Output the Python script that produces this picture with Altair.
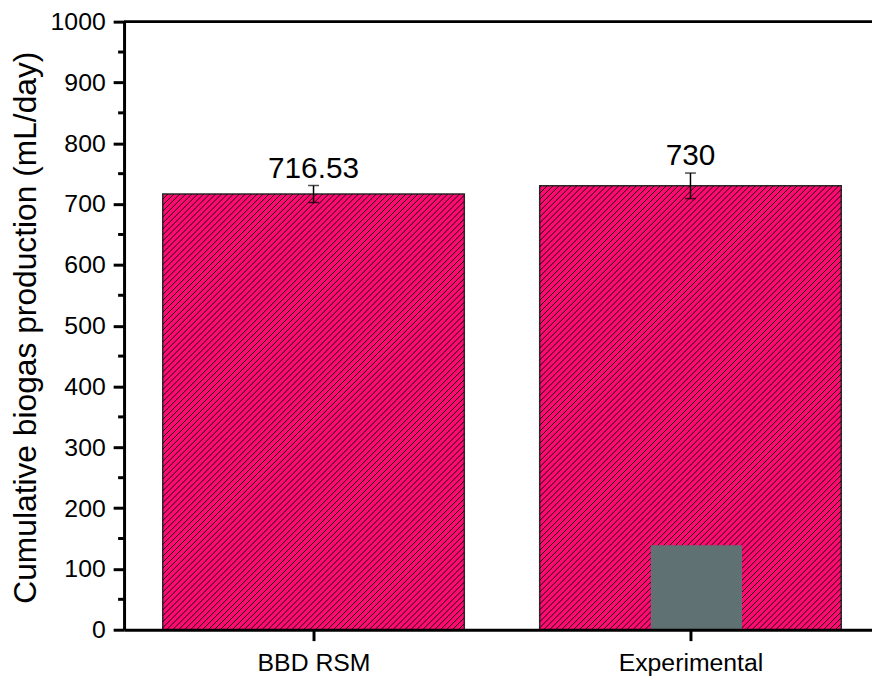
import altair as alt
import pandas as pd

# ---- data ----
categories = ["BBD RSM", "Experimental"]
values = [716.53, 730]
errors = [14, 21]
value_labels = ["716.53", "730"]
y_major = [0, 100, 200, 300, 400, 500, 600, 700, 800, 900, 1000]
y_minor = [50, 150, 250, 350, 450, 550, 650, 750, 850, 950]
patch_category = ["Experimental"]
patch_value = [139]

# ---- layout / style ----
W, H = 754, 613          # plot area in px
YMAX = 1000
STEP_PX = 380            # px between category centres
FIRST_PX = 191           # px from left edge to first category centre
HALF_BAR = 0.4           # half bar width in category steps (304 px)
HATCH_PX = 6.0           # horizontal spacing of hatch lines
PINK = "#ff0a72"
FONT = "Liberation Sans"

idx = list(range(len(categories)))
df = pd.DataFrame({"i": idx, "cat": categories, "value": values, "err": errors, "label": value_labels})
df["lo"] = df["value"] - df["err"]
df["hi"] = df["value"] + df["err"]
df["x0"] = df["i"] - HALF_BAR
df["x1"] = df["i"] + HALF_BAR
minor_df = pd.DataFrame({"v": y_minor})

# hatch lines (///) clipped to each bar, computed from the bar values
rows = []
bar_w_px = 2 * HALF_BAR * STEP_PX
for i, v in zip(idx, values):
    h_px = v * H / YMAX
    c = -bar_w_px
    while c < h_px:
        xa, xb = max(0.0, -c), min(bar_w_px, h_px - c)
        if xb > xa:
            rows.append({
                "hx": i - HALF_BAR + xa / STEP_PX, "hy": (xa + c) * YMAX / H,
                "hx2": i - HALF_BAR + xb / STEP_PX, "hy2": (xb + c) * YMAX / H,
            })
        c += HATCH_PX
hatch_df = pd.DataFrame(rows)

pi = categories.index(patch_category[0])
patch_df = pd.DataFrame({
    "x0": [pi + (6 - 46) / STEP_PX], "x1": [pi + (6 + 46) / STEP_PX], "value": patch_value,
})

d0 = -FIRST_PX / STEP_PX
xscale = alt.Scale(domain=[d0, d0 + W / STEP_PX], nice=False, zero=False)
yscale = alt.Scale(domain=[0, YMAX], nice=False, zero=True)

label_expr = " : ".join(
    f"datum.value == {i} ? '{c}'" for i, c in zip(idx[:-1], categories[:-1])
) + f" : '{categories[-1]}'"

x_axis = alt.Axis(
    title=None, values=idx, labelExpr=label_expr, labelAngle=0, labelFont=FONT,
    labelFontSize=25, labelColor="black", labelBaseline="alphabetic", labelPadding=30,
    labelFlush=False, labelOverlap=False,
    tickSize=11, tickWidth=3, tickColor="black", domainWidth=3, domainColor="black",
    grid=False, zindex=1,
)
y_axis = alt.Axis(
    values=y_major, format="d", title="Cumulative biogas production (mL/day)",
    titleFont=FONT, titleFontSize=32, titleFontWeight="normal", titleColor="black",
    titleAngle=270, titleX=-89, titleY=308, titleAlign="center", titleBaseline="alphabetic",
    labelFont=FONT, labelFontSize=25, labelColor="black", labelPadding=8,
    tickSize=11, tickWidth=3, tickColor="black", domainWidth=3, domainColor="black",
    grid=False, zindex=1,
)


def X(f):
    return alt.X(f, type="quantitative", scale=xscale, axis=x_axis)


def Y(f):
    return alt.Y(f, type="quantitative", scale=yscale, axis=y_axis)


bars = alt.Chart(df).mark_rect(fill=PINK, stroke="#2a2a2a", strokeWidth=1.5).encode(
    x=X("x0"), x2="x1", y=Y("value"), y2=alt.datum(0)
)

hatch = alt.Chart(hatch_df).mark_rule(color="#140008", strokeWidth=1.0).encode(
    x=X("hx"), y=Y("hy"), x2="hx2", y2="hy2"
)

# greyish-teal textured patch at the bottom of the Experimental bar
patch = alt.Chart(patch_df).mark_rect(fill="#5f7172").encode(
    x=X("x0"), x2="x1", y=Y("value"), y2=alt.datum(0)
)

top_line = alt.Chart(df).mark_rule(color="black", strokeWidth=2.5).encode(
    y=alt.datum(YMAX, scale=yscale, axis=y_axis)
)

minor = alt.Chart(minor_df).mark_rule(color="black", strokeWidth=3).encode(
    y=Y("v"), x=alt.value(-6), x2=alt.value(0)
)

err_rule = alt.Chart(df).mark_rule(color="black", strokeWidth=1.5).encode(
    x=X("i"), y=Y("lo"), y2="hi"
)
cap_lo = alt.Chart(df).mark_tick(color="black", size=11, thickness=1.5, orient="horizontal").encode(
    x=X("i"), y=Y("lo")
)
cap_hi = alt.Chart(df).mark_tick(color="black", size=11, thickness=1.5, orient="horizontal").encode(
    x=X("i"), y=Y("hi")
)
labels = alt.Chart(df).mark_text(font=FONT, fontSize=30, dy=-8, baseline="alphabetic", color="black").encode(
    x=X("i"), y=Y("hi"), text="label:N"
)

chart = alt.layer(bars, hatch, patch, top_line, minor, err_rule, cap_lo, cap_hi, labels).properties(
    width=W, height=H,
    autosize=alt.AutoSizeParams(type="none"),
    padding={"left": 117, "top": 11, "right": 0, "bottom": 56},
    background="white",
).configure_view(stroke=None)

chart.save("out.html", embed_options={"renderer": "svg", "actions": False})
